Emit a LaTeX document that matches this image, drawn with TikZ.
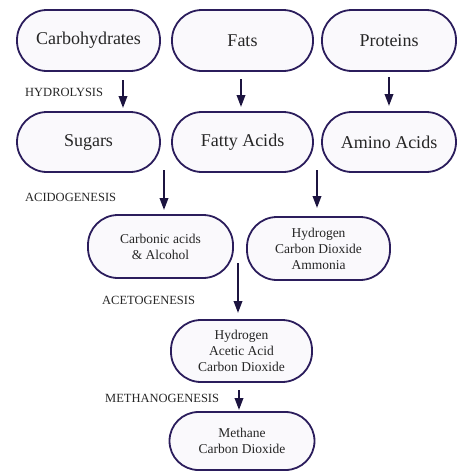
\documentclass[tikz,border=0pt]{standalone}
\usepackage{fontspec}
\setmainfont{Liberation Serif}
\usetikzlibrary{arrows.meta}
\definecolor{boxline}{HTML}{2B1D5C}
\definecolor{arrcol}{HTML}{1C1440}
\definecolor{boxfill}{HTML}{FAF9FC}
\definecolor{txt}{HTML}{262626}
\begin{document}
\begin{tikzpicture}[x=1pt,y=-1pt,
  bigbox/.style={draw=boxline, line width=1.8pt, fill=boxfill, rectangle, inner sep=0pt, outer sep=0pt,
    minimum height=61pt, rounded corners=30pt, text=txt, font=\fontsize{18}{20}\selectfont},
  smallbox/.style={draw=boxline, line width=1.8pt, fill=boxfill, rectangle, inner sep=0pt, outer sep=0pt,
    rounded corners=30pt, text=txt, align=center, font=\fontsize{13.5}{16}\selectfont},
  stage/.style={anchor=west, inner sep=0pt, text=txt, font=\fontsize{12.5}{14}\selectfont},
  arr/.style={draw=arrcol, line width=2pt, -{Triangle[width=8.5pt,length=12pt]}}]
\useasboundingbox (0,0) rectangle (458,472);
% row 1
\node[bigbox, minimum width=143pt] (carb) at (88.5,40.5) {Carbohydrates};
\node[bigbox, minimum width=141pt] (fats) at (242.5,40.5) {Fats};
\node[bigbox, minimum width=134pt] (prot) at (389,40.5) {Proteins};
% row 2
\node[bigbox, minimum width=143pt, minimum height=60pt] (sug) at (88.5,142) {Sugars};
\node[bigbox, minimum width=141pt, minimum height=60pt] (fatty) at (242.5,142) {Fatty Acids};
\node[bigbox, minimum width=134pt, minimum height=60pt] (amino) at (389,142) {Amino Acids};
% row 3
\node[smallbox, minimum width=145pt, minimum height=63pt] (carbo) at (160.5,246.5) {Carbonic acids\\\& Alcohol};
\node[smallbox, minimum width=143pt, minimum height=63pt] (hyd) at (318.5,248.5) {Hydrogen\\Carbon Dioxide\\Ammonia};
% row 4
\node[smallbox, minimum width=141pt, minimum height=62pt] (acet) at (241.5,351) {Hydrogen\\Acetic Acid\\Carbon Dioxide};
% row 5
\node[smallbox, minimum width=145pt, minimum height=58pt, rounded corners=29pt] (meth) at (242,441) {Methane\\Carbon Dioxide};
% stage labels
\node[stage] (l1) at (25,92) {HYDROLYSIS};
\node[stage] (l2) at (25,197) {ACIDOGENESIS};
\node[stage] (l3) at (102,300) {ACETOGENESIS};
\node[stage] (l4) at (105,398) {METHANOGENESIS};
% arrows
\draw[arr] ([xshift=34.5pt,yshift=-9pt]carb.south) -- ([xshift=34.5pt,yshift=4pt]sug.north);
\draw[arr] ([xshift=-1.5pt,yshift=-8pt]fats.south) -- ([xshift=-1.5pt,yshift=5pt]fatty.north);
\draw[arr] ([yshift=-6pt]prot.south) -- ([yshift=6pt]amino.north);
\draw[arr] ([xshift=75.5pt,yshift=2pt]sug.south) -- ([xshift=3.5pt,yshift=5pt]carbo.north);
\draw[arr] ([xshift=74.5pt,yshift=2pt]fatty.south) -- ([xshift=-1.5pt,yshift=9pt]hyd.north);
\draw[arr] ([xshift=5pt,yshift=-16.5pt]carbo.east) -- ([xshift=-3.5pt,yshift=7pt]acet.north);
\draw[arr] ([xshift=-2.5pt,yshift=-8pt]acet.south) -- ([xshift=-3pt,yshift=2pt]meth.north);
\end{tikzpicture}
\end{document}
